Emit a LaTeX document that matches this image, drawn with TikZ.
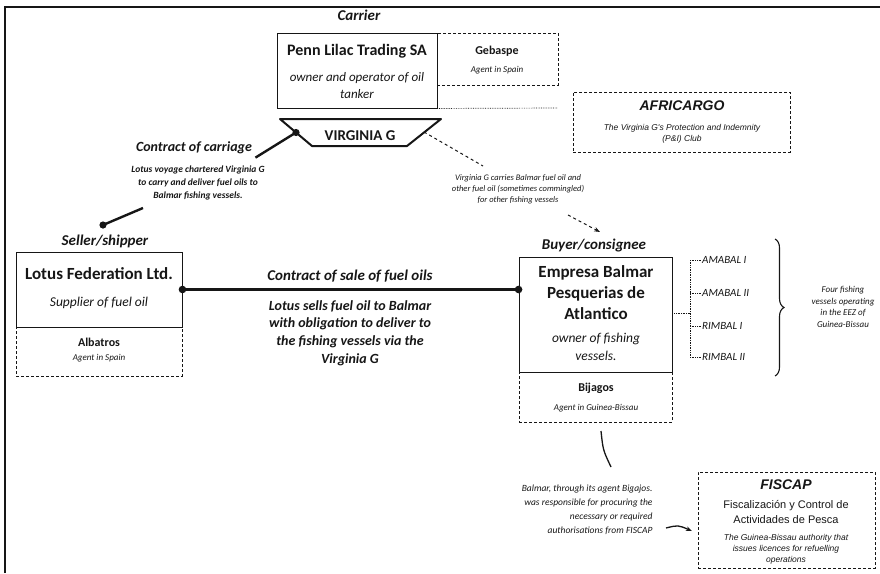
\documentclass[tikz,border=0pt]{standalone}
\usepackage{fontspec}
\setmainfont{Carlito}
\newfontfamily\arialfont{Liberation Sans}
\usepackage{xcolor}
\definecolor{chart-ink}{HTML}{161616}
\usepackage{tikz}
\usetikzlibrary{arrows.meta,decorations.pathreplacing,calc}

\begin{document}
\begin{tikzpicture}[x=1pt, y=-1pt, chart-ink,
    role/.style={font=\fontsize{15}{17}\selectfont\bfseries\itshape},
    firm/.style={font=\fontsize{17}{21}\selectfont\bfseries, align=center},
    duty/.style={font=\fontsize{13.5}{18}\selectfont\itshape, align=center},
    agent/.style={font=\fontsize{12}{14}\selectfont\bfseries},
    agent-note/.style={font=\fontsize{9}{11}\selectfont\itshape},
    deal-note/.style={font=\fontsize{9.5}{13}\selectfont\bfseries\itshape, align=center},
    sale-note/.style={font=\fontsize{14}{17.7}\selectfont\bfseries\itshape, align=center},
    side-note/.style={font=\fontsize{8.5}{10.8}\selectfont\itshape, align=center},
    boat/.style={font=\fontsize{11}{13}\selectfont\itshape, inner sep=1pt},
    club/.style={font=\arialfont\fontsize{14}{16}\selectfont\bfseries\itshape},
    club-note/.style={font=\arialfont\fontsize{8.5}{11}\selectfont\itshape, align=center},
    main-box/.style={draw, line width=0.9pt, inner sep=0pt},
    agent-box/.style={draw, densely dashed, line width=0.6pt, inner sep=0pt},
    link/.style={line width=2.4pt},
    feeder/.style={densely dotted, line width=0.7pt}
]
    \useasboundingbox (0,0) rectangle (880,573);

    % Frame
    \draw[line width=1.3pt] (5,573) -- (5,7) -- (880,7);

    % Carrier
    \node[role] (carrier) at (359,15) {Carrier};
    \node[main-box, minimum width=160pt, minimum height=75pt] (penn) at (357,70.5) {};
    \node[firm, font=\fontsize{16}{20}\selectfont\bfseries] (penn-name) at (357,51) {Penn Lilac Trading SA};
    \node[duty, font=\fontsize{13}{17}\selectfont\itshape] (penn-duty) at (357,86) {owner and operator of oil\\tanker};
    \node[agent-box, minimum width=121pt, minimum height=52pt] (gebaspe) at (497.5,59) {};
    \node[agent] (gebaspe-name) at (497,51) {Gebaspe};
    \node[agent-note] (gebaspe-role) at (497,70) {Agent in Spain};
    \draw[feeder] (penn.south east) -- (558,108);

    % Vessel hull
    \coordinate (hull-nw) at (280,119);
    \coordinate (hull-ne) at (441,119);
    \coordinate (hull-se) at (407,146);
    \coordinate (hull-sw) at (312,146);
    \draw[line width=2pt, line join=round] (hull-nw) -- (hull-ne) -- (hull-se) -- (hull-sw) -- cycle;
    \node[font=\fontsize{15}{17}\selectfont\bfseries] (virginia) at (360,136) {VIRGINIA G};

    % P&I club
    \node[agent-box, minimum width=217pt, minimum height=60pt] (africargo) at (681.5,122) {};
    \node[club] (africargo-name) at (682,106) {AFRICARGO};
    \node[club-note] (africargo-role) at (682,134) {The Virginia G's Protection and Indemnity\\(P\&I) Club};

    % Contract of carriage
    \node[font=\fontsize{14}{16}\selectfont\bfseries\itshape] (carriage) at (194,148) {Contract of carriage};
    \node[deal-note] (carriage-note) at (198,183) {Lotus voyage chartered Virginia G\\to carry and deliver fuel oils to\\Balmar fishing vessels.};
    \coordinate (carriage-v) at ($(hull-nw)!0.5!(hull-sw)$);
    \coordinate (carriage-s) at (143,208);
    \coordinate (carriage-l) at (103,225);
    \draw[link] (carriage.south east) -- (carriage-v);
    \draw[link] (carriage-s) -- (carriage-l);
    \fill (carriage-v) circle (3.6);
    \fill (carriage-l) circle (3.6);

    % Seller
    \node[role] (seller) at (105,241) {Seller/shipper};
    \node[main-box, minimum width=166pt, minimum height=75pt] (lotus) at (99,289.5) {};
    \node[firm] (lotus-name) at (99,274) {Lotus Federation Ltd.};
    \node[duty] (lotus-duty) at (99,303) {Supplier of fuel oil};
    \node[agent-box, minimum width=166pt, minimum height=49pt] (albatros) at (99,351.5) {};
    \node[agent] (albatros-name) at (99,342) {Albatros};
    \node[agent-note] (albatros-role) at (99,358) {Agent in Spain};

    % Buyer
    \node[role] (buyer) at (594,245) {Buyer/consignee};
    \node[main-box, minimum width=153pt, minimum height=115pt] (empresa) at (595.5,314.5) {};
    \node[firm] (empresa-name) at (596,293) {Empresa Balmar\\Pesquerias de\\Atlantico};
    \node[duty] (empresa-duty) at (596,347) {owner of fishing\\vessels.};
    \node[agent-box, minimum width=153pt, minimum height=50pt] (bijagos) at (595.5,397) {};
    \node[agent] (bijagos-name) at (596,388) {Bijagos};
    \node[agent-note] (bijagos-role) at (596,408) {Agent in Guinea-Bissau};

    % Contract of sale
    \coordinate (sale-l) at (lotus.east);
    \coordinate (sale-r) at (empresa.west |- lotus.east);
    \draw[link] (sale-l) -- (sale-r);
    \fill (sale-l) circle (3.8);
    \fill (sale-r) circle (3.8);
    \node[role] (sale) at (350,276) {Contract of sale of fuel oils};
    \node[sale-note] (sale-note) at (350,333) {Lotus sells fuel oil to Balmar\\with obligation to deliver to\\the fishing vessels via the\\Virginia G};

    % Carriage of other fuel
    \node[side-note] (mixed-note) at (518,189) {Virginia G carries Balmar fuel oil and\\other fuel oil (sometimes commingled)\\for other fishing vessels};
    \coordinate (mixed-a) at (424,132);
    \coordinate (mixed-b) at (483,166);
    \coordinate (mixed-c) at (568,215);
    \coordinate (mixed-d) at (600,232);
    \draw[dashed, line width=1pt] (mixed-a) -- (mixed-b);
    \draw[dashed, line width=1pt, -{Stealth[length=6pt]}] (mixed-c) -- (mixed-d);

    % Fishing vessels
    \coordinate (fleet) at (690,313);
    \draw[feeder] (empresa.east |- fleet) -- (fleet);
    \draw[feeder] (690,260) -- (690,357);
    \foreach \boatname/\y [count=\i] in {AMABAL I/260, AMABAL II/293, RIMBAL I/326, RIMBAL II/357} {
        \node[boat, anchor=west] (boat-\i) at (701,\y) {\boatname};
        \draw[feeder] (690,\y) -- (boat-\i.west);
    }
    \draw[decorate, decoration={brace, amplitude=9pt}, line width=1.1pt] (775,239) -- (775,376);
    \node[side-note, font=\fontsize{9}{11.5}\selectfont\itshape] (fleet-note) at (843,307) {Four fishing\\vessels operating\\in the EEZ of\\Guinea-Bissau};

    % Licensing
    \node[side-note, font=\fontsize{9.5}{14}\selectfont\itshape, align=right, anchor=north east] (licence-note) at (656,481) {Balmar, through its agent Bigajos.\\was responsible for procuring the\\necessary or required\\authorisations from FISCAP};
    \coordinate (licence-a) at (601,431);
    \coordinate (licence-b) at (611,467);
    \draw[line width=1.3pt] (licence-a) .. controls (603,450) .. (licence-b);
    \node[agent-box, minimum width=177pt, minimum height=96pt] (fiscap) at (786.5,520) {};
    \node[club] (fiscap-name) at (786,485) {FISCAP};
    \node[font=\arialfont\fontsize{11}{15.5}\selectfont, align=center] (fiscap-full) at (786,512) {Fiscalización y Control de\\Actividades de Pesca};
    \node[club-note, font=\arialfont\fontsize{8.5}{10.8}\selectfont\itshape] (fiscap-role) at (786,549) {The Guinea-Bissau authority that\\issues licences for refuelling\\operations};
    \coordinate (licence-c) at (666,528);
    \coordinate (licence-d) at (692,531);
    \draw[line width=1.3pt, -{Stealth[length=6pt]}] (licence-c) .. controls (678,525) .. (licence-d);

\end{tikzpicture}
\end{document}
